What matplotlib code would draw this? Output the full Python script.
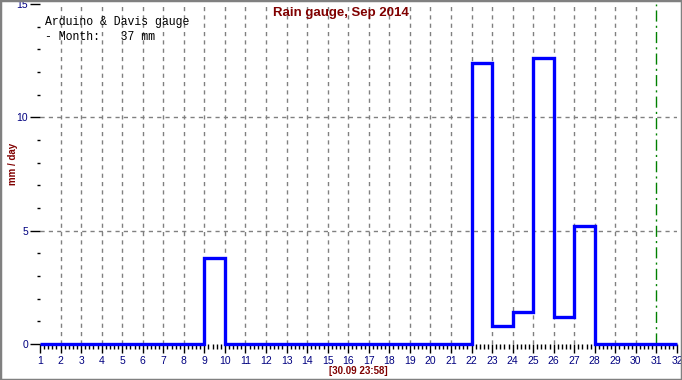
import matplotlib
matplotlib.use('Agg')
import matplotlib.pyplot as plt
from matplotlib.patches import Rectangle
from matplotlib.ticker import MultipleLocator

# rain per day, Sep 2014 (mm)
days = list(range(1, 33))
rain = [0, 0, 0, 0, 0, 0, 0, 0, 3.8, 0,
        0, 0, 0, 0, 0, 0, 0, 0, 0, 0,
        0, 12.4, 0.8, 1.4, 12.6, 1.2, 5.2, 0, 0, 0, 0]
month_total = 37
now_day = 31
stamp = '[30.09 23:58]'

dark_red = '#800000'
dark_blue = '#000080'

fig = plt.figure(figsize=(6.82, 3.80), dpi=100)
ax = fig.add_axes([40 / 682, 36 / 380, 637 / 682, 340 / 380])

ax.stairs(rain, days, color='#0000ff', lw=2.4, clip_on=False, zorder=5)

ax.set_xlim(1, 32)
ax.set_ylim(0, 15)
for s in ax.spines.values():
    s.set_visible(False)

ax.xaxis.set_major_locator(MultipleLocator(1))
ax.xaxis.set_minor_locator(MultipleLocator(0.2))
ax.yaxis.set_major_locator(MultipleLocator(5))
ax.yaxis.set_minor_locator(MultipleLocator(1))
ax.tick_params(axis='x', which='major', length=6.5, width=1, pad=2.5,
               labelsize=7.5, labelcolor=dark_blue)
ax.tick_params(axis='x', which='minor', length=3.8, width=1)
ax.tick_params(axis='y', which='major', length=7.2, width=1, pad=1.5,
               labelsize=7.5, labelcolor=dark_blue)
ax.tick_params(axis='y', which='minor', length=2.5, width=1)

# grid
for d in days[1:-2]:
    if d != now_day:
        ax.axvline(d, color='#808080', lw=1, ls=(0, (3, 3)), zorder=1)
for v in [5, 10]:
    ax.axhline(v, color='#808080', lw=1, ls=(0, (3, 3)), zorder=1)
ax.axvline(now_day, color='#008000', lw=1, ls=(0, (8, 3, 1.5, 3)), zorder=2)

fig.text(341 / 682, 1 - 13 / 380, 'Rain gauge, Sep 2014', color=dark_red,
         fontsize=9.5, fontweight='bold', family='Liberation Sans',
         ha='center', va='center')
ax.set_ylabel('mm / day', color=dark_red, fontsize=7, fontweight='bold',
              family='Liberation Sans')
ax.yaxis.set_label_coords(-22 / 637, 0.53)
ax.set_xlabel(stamp, color=dark_red, fontsize=7, fontweight='bold',
              family='Liberation Sans', labelpad=0)

for lbl in ax.get_xticklabels() + ax.get_yticklabels():
    lbl.set_family('Liberation Sans')

ax.text(5 / 637, 1 - 12 / 340,
        'Arduino & Davis gauge\n- Month:   %d mm' % month_total,
        transform=ax.transAxes, family='Liberation Mono', fontsize=8.3,
        va='top', ha='left', linespacing=1.3)

# window frame
fig.patches.append(Rectangle((0, 0), 1, 1, transform=fig.transFigure,
                             fill=False, edgecolor='#808080', lw=2.5))

fig.savefig('out.png', dpi=100)
